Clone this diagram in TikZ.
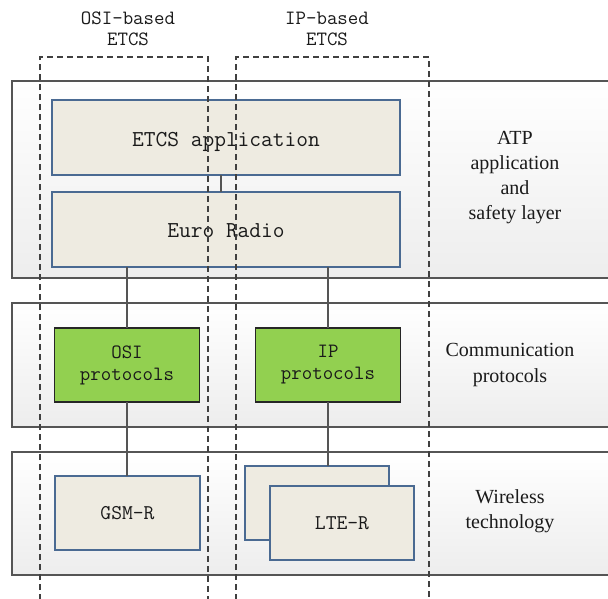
\documentclass[tikz,border=0pt]{standalone}
\usepackage{fontspec}
\setmainfont{Liberation Serif}
\setmonofont{Latin Modern Mono}
\usetikzlibrary{calc}
\definecolor{beige}{HTML}{EEEBE1}
\definecolor{bluebd}{HTML}{4A6A92}
\definecolor{grn}{HTML}{92D050}
\definecolor{linegray}{HTML}{555555}
\definecolor{txt}{HTML}{1A1A1A}
\begin{document}
\begin{tikzpicture}[x=1pt,y=-1pt,
  layer/.style={draw=linegray, line width=1.4pt, top color=white, bottom color=black!7, minimum height=#1, minimum width=640pt, anchor=north west, inner sep=0pt, outer sep=0pt},
  beigebox/.style={draw=bluebd, line width=1.2pt, fill=beige, inner sep=0pt, outer sep=0pt, text=txt, align=center},
  greenbox/.style={draw=black!85, line width=1.4pt, fill=grn, inner sep=0pt, outer sep=0pt, text=txt, align=center, minimum width=145pt, minimum height=74pt, font=\ttfamily\fontsize{20.3pt}{22pt}\selectfont},
  conn/.style={draw=linegray, line width=1.8pt},
  col/.style={draw=black!75, line width=1.4pt, dash pattern=on 6pt off 4pt},
  sidelbl/.style={font=\fontsize{20pt}{25pt}\selectfont, align=center, text=txt},
  ttl/.style={font=\ttfamily\fontsize{20.3pt}{21pt}\selectfont, align=center, text=txt}
]
\useasboundingbox (0,0) rectangle (608,598);
\clip (0,0) rectangle (608,598);
\fill[white] (0,0) rectangle (608,598);

% layers
\node[layer=197pt] (L1) at (12,81) {};
\node[layer=124pt] (L2) at (12,303) {};
\node[layer=123pt] (L3) at (12,452) {};

% right labels
\node[sidelbl] (t1) at (515,178) {ATP\\application\\and\\safety layer};
\node[sidelbl] (t2) at (510,365) {Communication\\protocols};
\node[sidelbl] (t3) at (510,511) {Wireless\\technology};

% column titles
\node[ttl] (c1) at (128,29) {OSI-based\\ETCS};
\node[ttl] (c2) at (327,29) {IP-based\\ETCS};

% boxes
\node[beigebox, minimum width=348pt, minimum height=75pt, text height=17pt, text depth=0pt, font=\ttfamily\fontsize{22.8pt}{24pt}\selectfont] (app) at (226,137.5) {ETCS application};
\node[beigebox, minimum width=348pt, minimum height=75pt, text height=16pt, text depth=0pt, font=\ttfamily\fontsize{22.8pt}{24pt}\selectfont] (er) at (226,229.5) {Euro Radio};
\node[greenbox] (osi) at (127,365) {OSI\\protocols};
\node[greenbox] (ip) at (328,365) {IP\\protocols};
\node[beigebox, minimum width=145pt, minimum height=74pt, font=\ttfamily\fontsize{21pt}{22pt}\selectfont] (gsm) at (127.5,513) {GSM-R};
\node[beigebox, minimum width=144pt, minimum height=74pt] (lteb) at (317,503) {};
\node[beigebox, minimum width=144pt, minimum height=74pt, font=\ttfamily\fontsize{21pt}{22pt}\selectfont] (ltef) at (342,523) {LTE-R};

% connectors
\draw[conn] ([xshift=-5pt]app.south) -- ([xshift=-5pt]er.north);
\draw[conn] (osi.north |- er.south) -- (osi.north);
\draw[conn] (ip.north |- er.south) -- (ip.north);
\draw[conn] (osi.south) -- (osi.south |- gsm.north);
\draw[conn] (ip.south) -- (ip.south |- lteb.north);

% dashed columns
\coordinate (o1) at (40,57);
\coordinate (o2) at (208,57);
\coordinate (i1) at (236,57);
\coordinate (i2) at (429,57);
\draw[col] (o1 |- 0,600) -- (o1) -- (o2) -- (o2 |- 0,600);
\draw[col] (i1 |- 0,600) -- (i1) -- (i2) -- (i2 |- 0,600);
\end{tikzpicture}
\end{document}
